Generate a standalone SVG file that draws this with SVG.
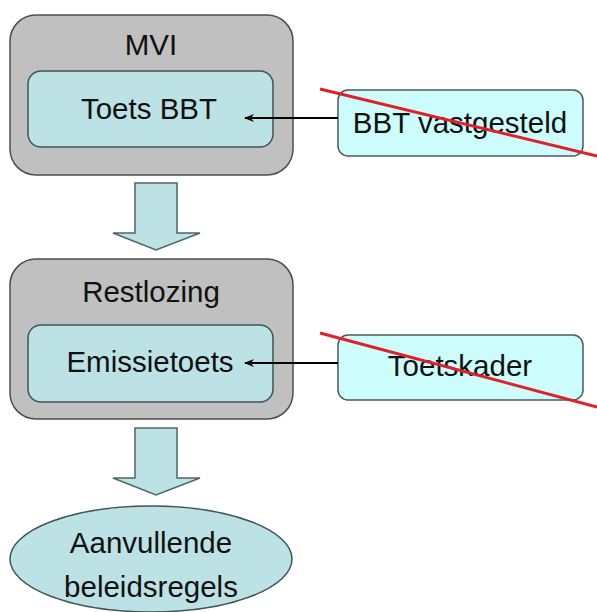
<svg xmlns="http://www.w3.org/2000/svg" width="597" height="612" viewBox="0 0 597 612">
<defs>
<style>
.outer{fill:#c0c0c0;stroke:#4d4d4d;stroke-width:1.5}
.inner{fill:#bde2e5;stroke:#3f5557;stroke-width:1.5}
.side{fill:#ccfcfc;stroke:#4d5a5a;stroke-width:1.5}
.block{fill:#bde2e5;stroke:#4f6668;stroke-width:1.5}
.t{font-family:"Liberation Sans",Arial,sans-serif;font-size:29.5px;fill:#111;text-anchor:middle}
.conn{stroke:#000;stroke-width:2;fill:none}
.strike{stroke:#e0202a;stroke-width:3}
</style>
<marker id="ah" markerWidth="10" markerHeight="8" refX="9" refY="4" orient="auto" markerUnits="userSpaceOnUse">
<path d="M0,0 L10,4 L0,8 L3,4 Z" fill="#000"/>
</marker>
</defs>
<rect width="597" height="612" fill="#fff"/>
<g id="mvi">
<rect class="outer" x="10" y="15" width="283" height="160" rx="26"/>
<text class="t" x="151" y="55">MVI</text>
</g>
<g id="toets-bbt">
<rect class="inner" x="28" y="71" width="245" height="76" rx="13"/>
<text class="t" x="149" y="119">Toets BBT</text>
</g>
<g id="bbt-vastgesteld">
<rect class="side" x="338" y="90" width="245" height="66" rx="10"/>
<text class="t" x="460" y="133">BBT vastgesteld</text>
</g>
<g id="restlozing">
<rect class="outer" x="10" y="259" width="283" height="160" rx="26"/>
<text class="t" x="151" y="302">Restlozing</text>
</g>
<g id="emissietoets">
<rect class="inner" x="28" y="325" width="245" height="77" rx="13"/>
<text class="t" x="150" y="372">Emissietoets</text>
</g>
<g id="toetskader">
<rect class="side" x="338" y="335" width="245" height="65" rx="10"/>
<text class="t" x="460" y="376">Toetskader</text>
</g>
<g id="aanvullende">
<ellipse class="inner" cx="151" cy="559" rx="141" ry="53"/>
<text class="t" x="151" y="553">Aanvullende</text>
<text class="t" x="151" y="597">beleidsregels</text>
</g>
<g id="connectors">
<line class="conn" x1="338" y1="118" x2="245" y2="118" marker-end="url(#ah)"/>
<line class="conn" x1="338" y1="363" x2="245" y2="363" marker-end="url(#ah)"/>
<path class="block" d="M135,183 H177 V233 H200 L156,250 L113,233 H135 Z"/>
<path class="block" d="M135,428 H177 V478 H200 L156,495 L113,478 H135 Z"/>
<line class="strike" x1="320" y1="89" x2="597" y2="156"/>
<line class="strike" x1="320" y1="333" x2="597" y2="407"/>
</g>
</svg>
